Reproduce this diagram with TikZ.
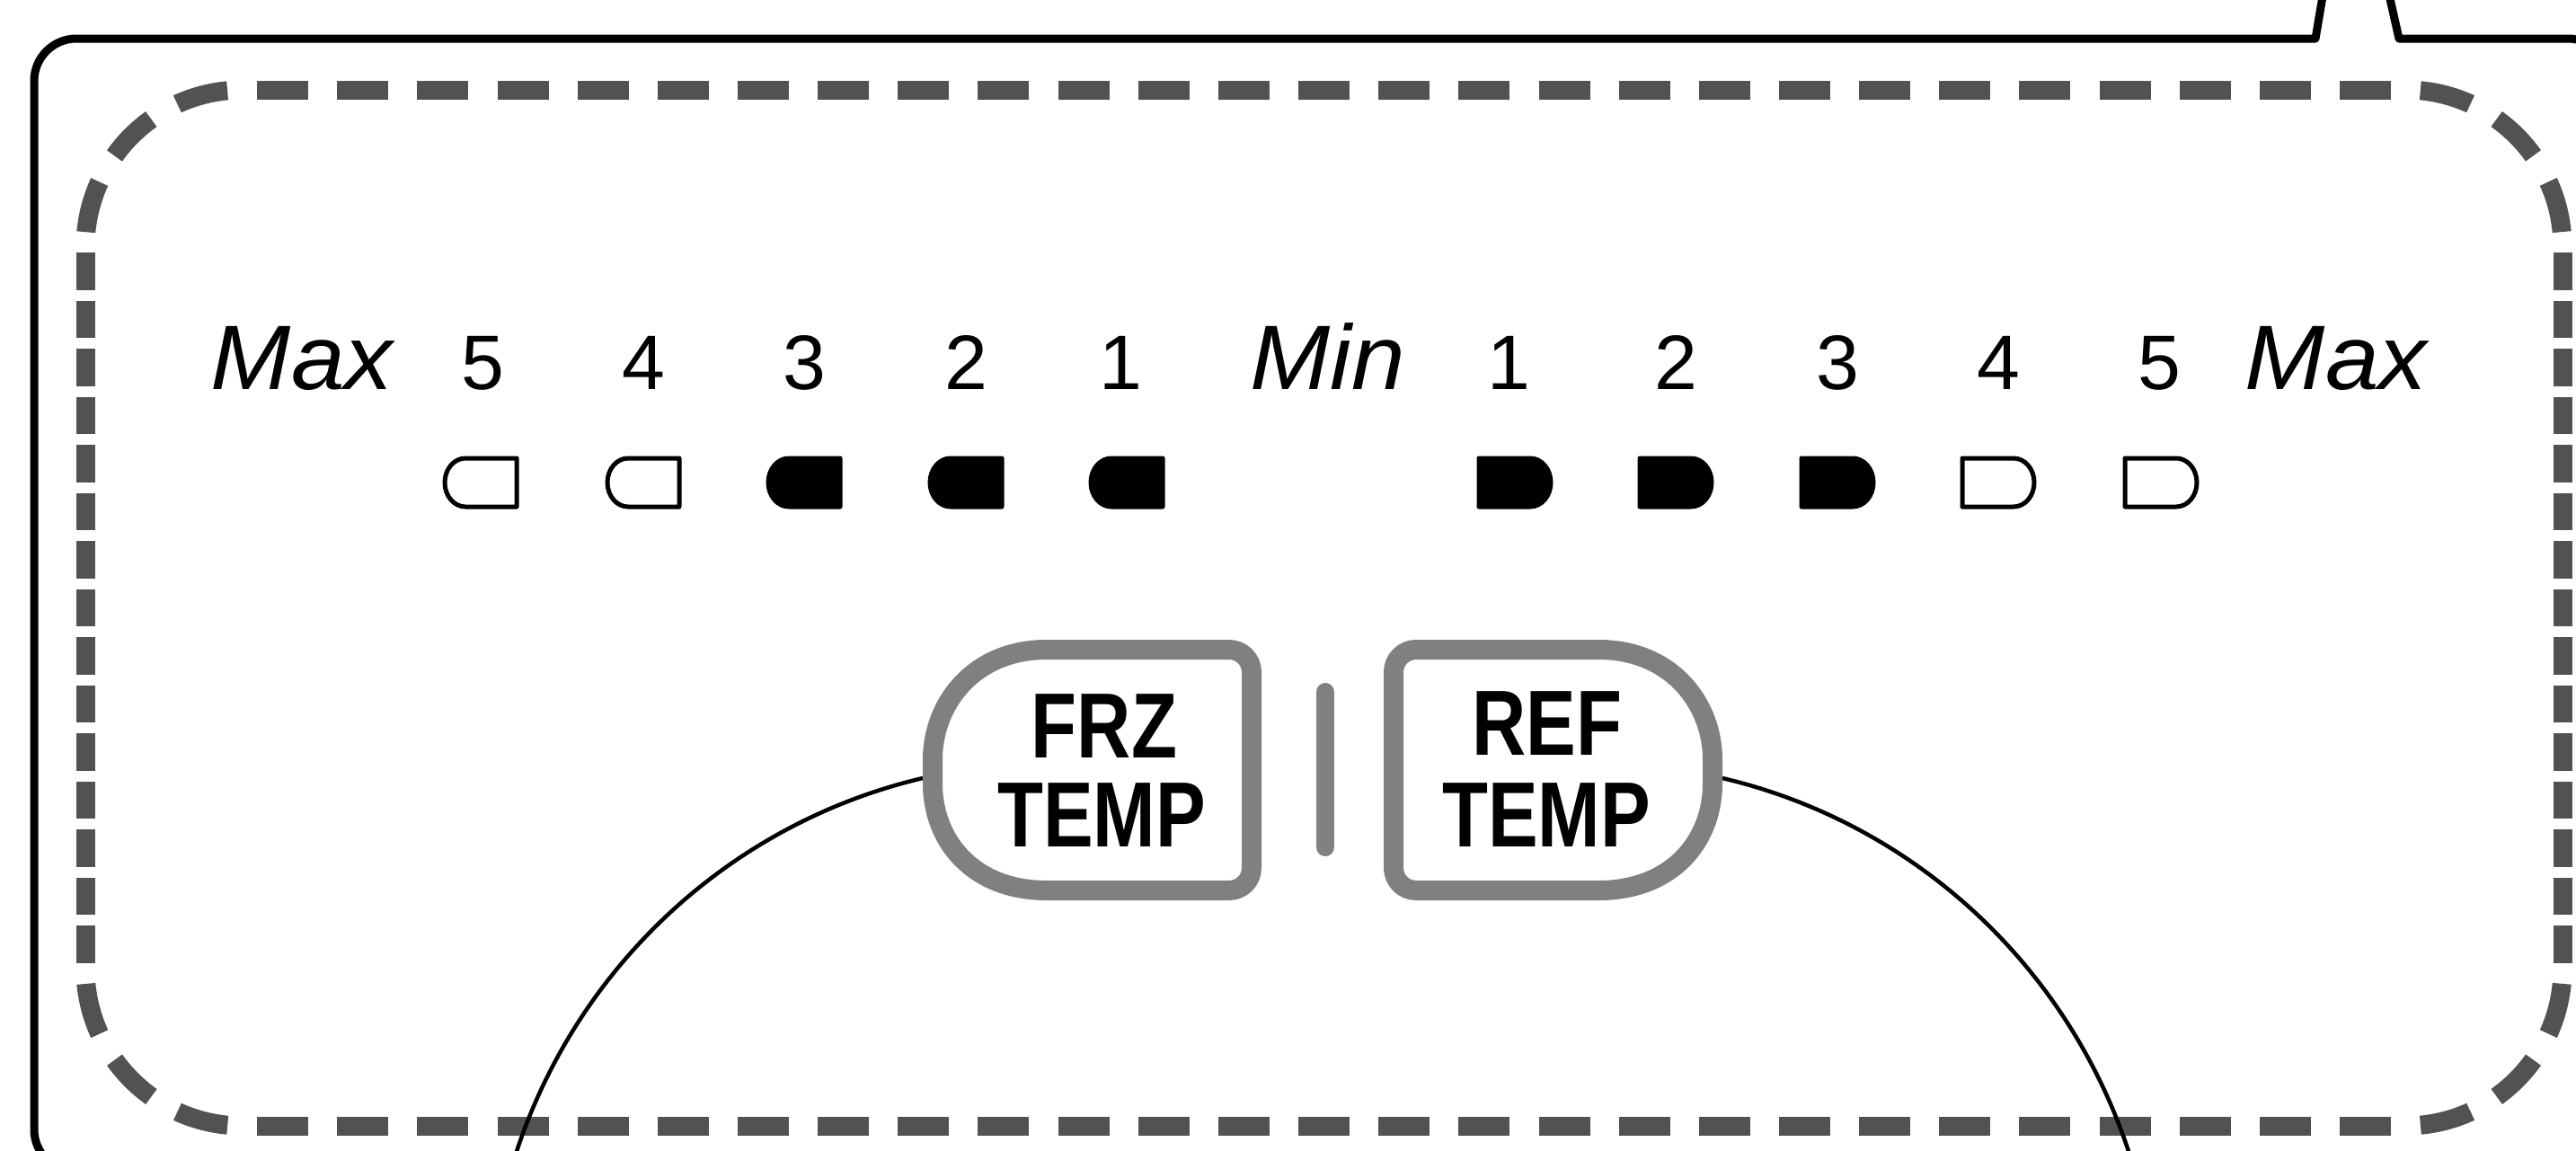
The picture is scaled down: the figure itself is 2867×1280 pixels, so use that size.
\documentclass[tikz,border=0pt]{standalone}
\usepackage{fontspec}
\setmainfont{Liberation Sans}
\usepackage{graphicx}
\usetikzlibrary{positioning,calc}

\begin{document}
\begin{tikzpicture}[x=1pt, y=-1pt, line join=round,
    digit/.style={anchor=base, inner sep=0pt, font=\fontsize{86}{90}\selectfont},
    word/.style={anchor=base, inner sep=0pt, font=\fontsize{102}{110}\selectfont\itshape},
    keytext/.style={anchor=base, inner sep=0pt, font=\fontsize{103}{99}\selectfont\bfseries},
    halftone/.style={draw=black!68, line width=21pt},
    keyband/.style={draw=black!50, line width=22pt},
    lamp/.style={draw=black, line width=5pt}]
  \useasboundingbox (0,0) rectangle (2867,1280);
  \clip (0,0) rectangle (2867,1280);

  % outer case with the pointer at the top
  \draw[line width=9pt, rounded corners=47] (2577,43) -- (38,43) -- (38,1304) -- (400,1304);
  \draw[line width=9pt, rounded corners=47] (2670,43) -- (2905,43) -- (2905,1304) -- (2600,1304);
  \draw[line width=9pt, line cap=round] (2586,-10) -- (2577,43);
  \draw[line width=9pt, line cap=round] (2658,-10) -- (2670,43);

  % dashed panel border
  \draw[halftone, dash pattern=on 57 off 32.15, dash phase=73.07] (270,100) -- (2677,100);
  \draw[halftone, dash pattern=on 57 off 32.15, dash phase=73.07] (270,1253) -- (2677,1253);
  \draw[halftone, dash pattern=on 41.5 off 12.03, dash phase=47.5] (95,275) -- (95,1078);
  \draw[halftone, dash pattern=on 41.5 off 12.03, dash phase=47.5] (2852,275) -- (2852,1078);
  \tikzset{corner/.style={halftone, dash pattern=on 58 off 33.6, dash phase=74.8}}
  \draw[corner] (95,275) arc[start angle=180, end angle=270, radius=175];
  \draw[corner] (2677,100) arc[start angle=270, end angle=360, radius=175];
  \draw[corner] (2852,1078) arc[start angle=0, end angle=90, radius=175];
  \draw[corner] (270,1253) arc[start angle=90, end angle=180, radius=175];

  % scale labels
  \node[word] (maxl) at (336,433) {\scalebox{1.05}[1]{Max}};
  \node[word] (min) at (1478,433) {\scalebox{1.05}[1]{Min}};
  \node[word] (maxr) at (2600,433) {\scalebox{1.05}[1]{Max}};

  % lamps, left half
  \foreach \x/\tx/\n/\f in {535/537/5/white, 716/716/4/white, 895/895/3/black, 1075/1075/2/black, 1254/1247/1/black}{
    \node[digit] (l\n) at (\tx,433) {\n};
    \filldraw[lamp, fill=\f] (\x+40,510) -- (\x-17,510)
      .. controls (\x-29.7,510) and (\x-40,522.1) .. (\x-40,537)
      .. controls (\x-40,551.9) and (\x-29.7,564) .. (\x-17,564) -- (\x+40,564) -- cycle;
  }
  % lamps, right half
  \foreach \x/\tx/\n/\f in {1686/1679/1/black, 1865/1865/2/black, 2045/2045/3/black, 2224/2224/4/white, 2405/2403/5/white}{
    \node[digit] (r\n) at (\tx,433) {\n};
    \filldraw[lamp, fill=\f] (\x-40,510) -- (\x+17,510)
      .. controls (\x+29.7,510) and (\x+40,522.1) .. (\x+40,537)
      .. controls (\x+40,551.9) and (\x+29.7,564) .. (\x+17,564) -- (\x-40,564) -- cycle;
  }

  % leads from the keys
  \coordinate (frztip) at (1027,866);
  \coordinate (frzend) at (568,1304);
  \coordinate (reftip) at (1917,866);
  \coordinate (refend) at (2376,1304);
  \draw[line width=4.5pt] (frztip) .. controls (806,918) and (631,1086) .. (frzend);
  \draw[line width=4.5pt] (reftip) .. controls (2138,918) and (2313,1086) .. (refend);

  % keys
  \filldraw[keyband, fill=white] (1165,723) -- (1368,723)
    arc[start angle=270, end angle=360, radius=25] -- (1393,966)
    arc[start angle=0, end angle=90, radius=25] -- (1165,991)
    .. controls (1082,991) and (1038,935) .. (1038,872) -- (1038,845)
    .. controls (1038,785) and (1082,723) .. (1165,723) -- cycle;
  \begin{scope}[xshift=2944pt, xscale=-1]
    \filldraw[keyband, fill=white] (1165,723) -- (1368,723)
      arc[start angle=270, end angle=360, radius=25] -- (1393,966)
      arc[start angle=0, end angle=90, radius=25] -- (1165,991)
      .. controls (1082,991) and (1038,935) .. (1038,872) -- (1038,845)
      .. controls (1038,785) and (1082,723) .. (1165,723) -- cycle;
  \end{scope}
  \draw[keyband, line width=20pt, line cap=round] (1475,770) -- (1475,943);

  \node[keytext] (frz) at (1229,843) {\scalebox{0.81}[1]{FRZ}};
  \node[keytext] (frztemp) at (1226,942) {\scalebox{0.81}[1]{TEMP}};
  \node[keytext] (ref) at (1722,840) {\scalebox{0.81}[1]{REF}};
  \node[keytext] (reftemp) at (1721,942) {\scalebox{0.81}[1]{TEMP}};
\end{tikzpicture}
\end{document}
